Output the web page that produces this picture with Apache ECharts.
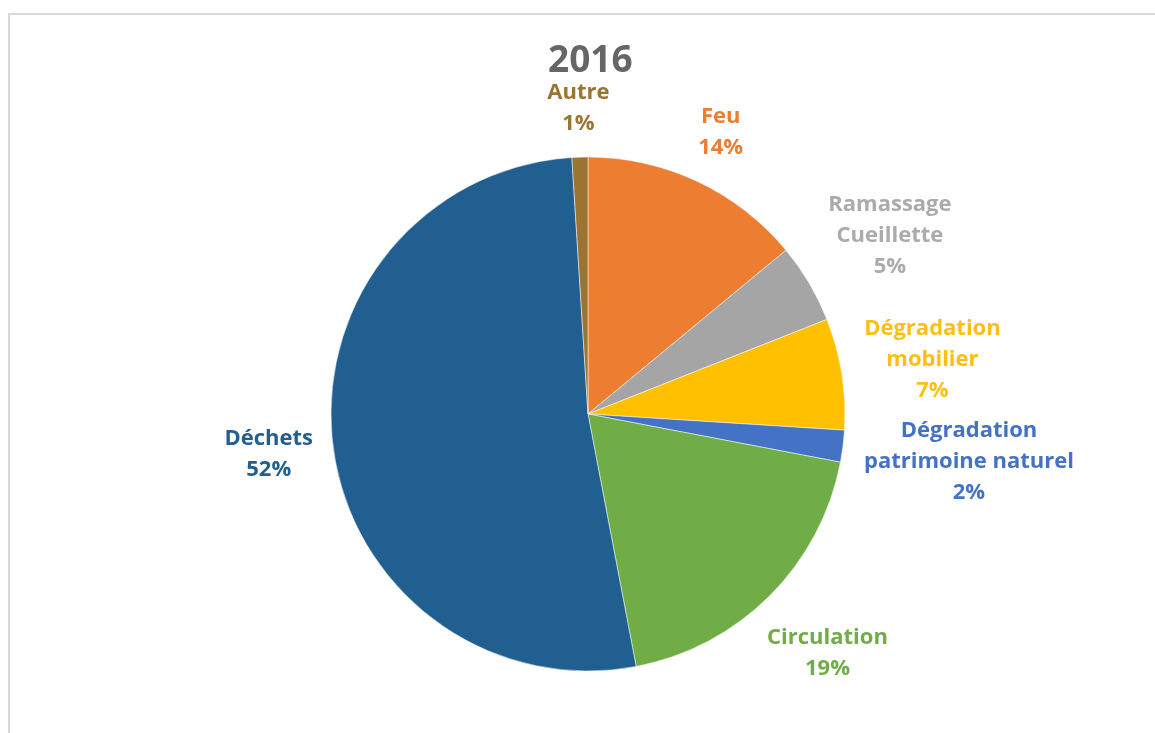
<!DOCTYPE html>
<html>
<head>
<meta charset="utf-8">
<script src="https://cdn.jsdelivr.net/npm/echarts@6/dist/echarts.min.js"></script>
<style>
  html, body { margin: 0; padding: 0; background: #ffffff; }
  #chart { width: 1155px; height: 733px; }
</style>
</head>
<body>
<div id="chart"></div>
<script>
// Répartition des infractions constatées en 2016
const chartTitle = '2016';
const categories = [
  'Feu',
  'Ramassage\nCueillette',
  'Dégradation\nmobilier',
  'Dégradation\npatrimoine naturel',
  'Circulation',
  'Déchets',
  'Autre'
];
const values = [14, 5, 7, 2, 19, 52, 1];
const colors = ['#ED7D31', '#A5A5A5', '#FFC000', '#4472C4', '#70AD47', '#225F91', '#9A7430'];
const labelColors = ['#ED7D31', '#ABABAB', '#FDBF15', '#4472C4', '#70AD47', '#225F91', '#9A7430'];

// pie geometry
const CX = 588, CY = 414, R = 257, GAP = 17;

// mid angle of each slice, clockwise from 12 o'clock
const total = values.reduce((a, b) => a + b, 0);
const midAngles = [];
let acc = 0;
values.forEach(v => { midAngles.push((acc + v / 2) / total * 2 * Math.PI); acc += v; });

const chart = echarts.init(document.getElementById('chart'), null, { renderer: 'canvas' });

chart.setOption({
  backgroundColor: '#ffffff',
  animation: false,
  graphic: [{
    type: 'rect',
    shape: { x: 9, y: 14, width: 1160, height: 740 },
    style: { fill: 'none', stroke: '#D9D9D9', lineWidth: 2 },
    silent: true
  }],
  title: {
    text: chartTitle,
    left: 548,
    top: 43,
    padding: 0,
    textStyle: {
      fontFamily: 'Open Sans',
      fontWeight: 'bold',
      fontSize: 37,
      color: '#666666'
    }
  },
  series: [{
    type: 'pie',
    center: [CX, CY],
    radius: R,
    startAngle: 90,
    clockwise: true,
    percentPrecision: 0,
    avoidLabelOverlap: false,
    itemStyle: { borderColor: '#ffffff', borderWidth: 0.5 },
    labelLine: { show: false },
    label: {
      show: true,
      position: 'outside',
      formatter: '{b}\n{d}%',
      fontFamily: 'Open Sans',
      fontWeight: 'bold',
      fontSize: 22,
      lineHeight: 31
    },
    // centre each label box just outside the rim, along its slice's mid angle
    labelLayout: function (p) {
      const a = midAngles[p.dataIndex];
      const dx = Math.sin(a), dy = -Math.cos(a);
      const w = p.labelRect.width, h = p.labelRect.height;
      const s = Math.abs(dx) * w / 2 + Math.abs(dy) * h / 2;
      const d = R + GAP + s;
      return { x: CX + dx * d, y: CY + dy * d, align: 'center', verticalAlign: 'middle' };
    },
    emphasis: { disabled: true },
    data: categories.map((name, i) => ({
      name: name,
      value: values[i],
      itemStyle: { color: colors[i] },
      label: { color: labelColors[i] }
    }))
  }]
});
</script>
</body>
</html>
